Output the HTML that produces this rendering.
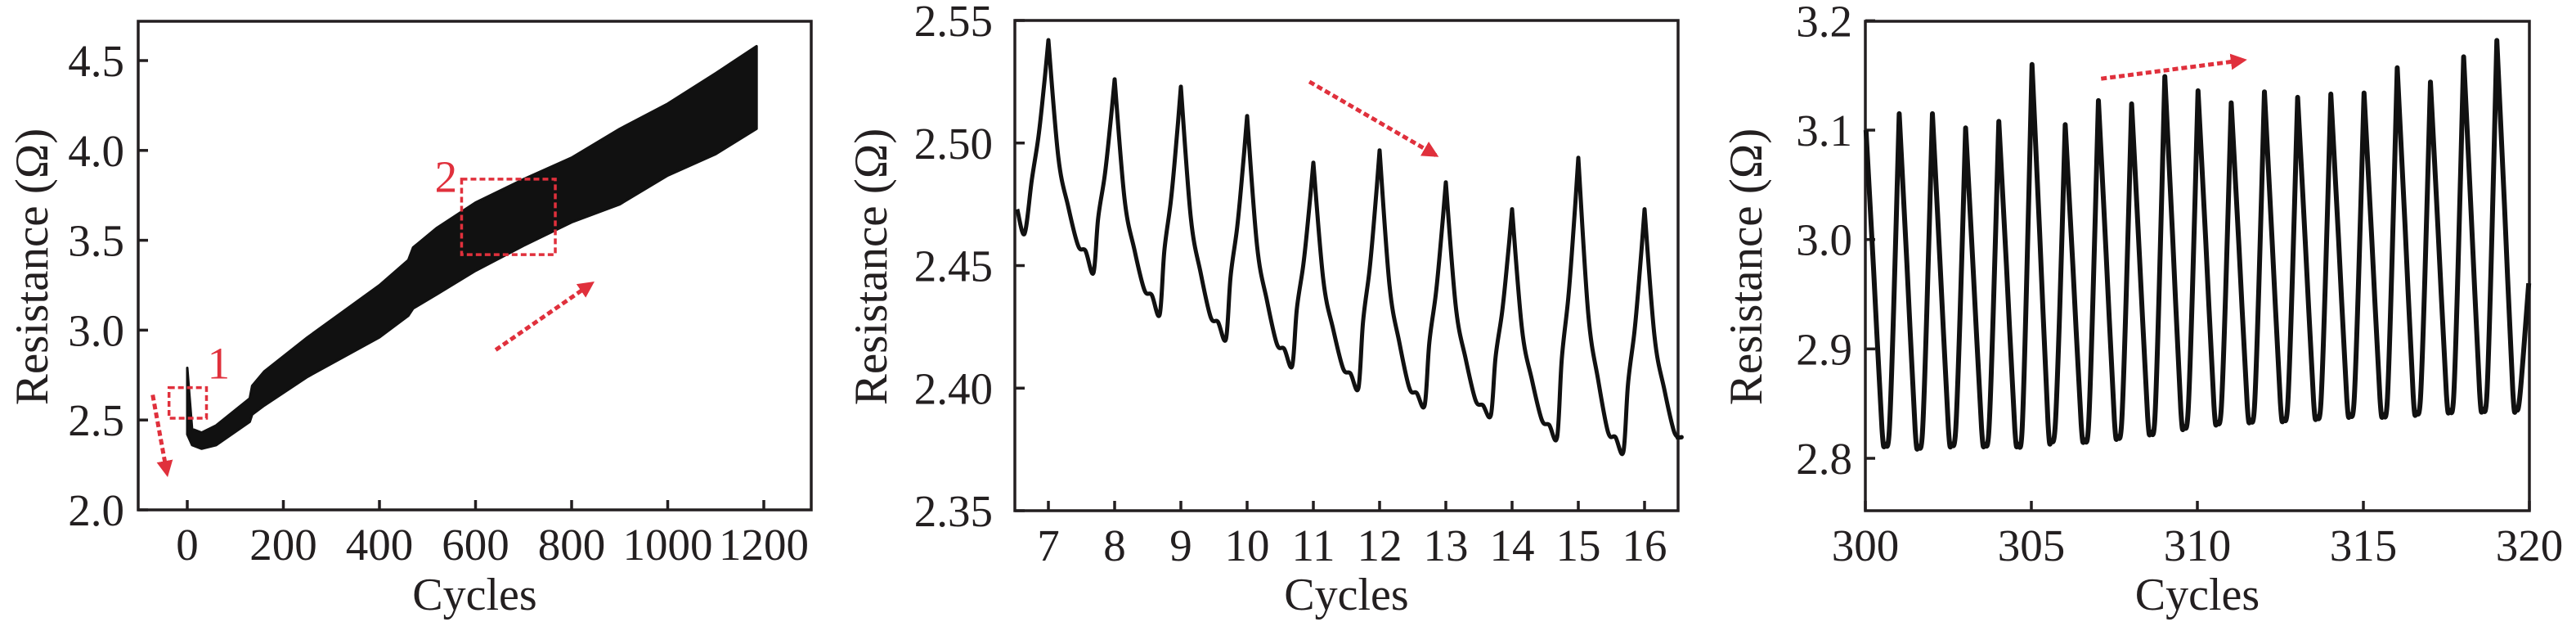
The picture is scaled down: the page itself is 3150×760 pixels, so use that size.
<!DOCTYPE html>
<html><head><meta charset="utf-8"><style>
html,body{margin:0;padding:0;background:#fff;}
svg{display:block;font-family:"Liberation Serif",serif;}
</style></head><body>
<svg id="fig" width="3150" height="760" viewBox="0 0 3150 760" xmlns="http://www.w3.org/2000/svg">
<defs>
<marker id="ah" viewBox="0 0 10 10" refX="8" refY="5" markerWidth="4" markerHeight="4" orient="auto" markerUnits="strokeWidth"><path d="M0,0 L10,5 L0,10 z" fill="#e0303c"/></marker>
</defs>
</svg>
<script>
// ---- Panel 1 data ----
const p1Cycles = [0,10,30,60,130,135,160,250,400,460,470,520,600,700,800,900,1000,1100,1185];
const p1Upper = [2.79,2.45,2.43,2.47,2.62,2.69,2.77,2.96,3.25,3.39,3.46,3.57,3.71,3.84,3.96,4.12,4.26,4.43,4.58];
const p1Lower = [2.42,2.36,2.34,2.36,2.49,2.53,2.58,2.74,2.96,3.08,3.12,3.20,3.33,3.47,3.60,3.70,3.86,3.98,4.12];
const p1XTicks = [0,200,400,600,800,1000,1200];
const p1YTicks = ["2.0","2.5","3.0","3.5","4.0","4.5"];
// ---- Panel 2 data ----
const p2Cycles = [7,8,9,10,11,12,13,14,15,16];
const p2Peaks = [2.542,2.526,2.523,2.511,2.492,2.497,2.484,2.473,2.494,2.473];
const p2Shoulders = [2.458,2.440,2.429,2.418,2.408,2.400,2.395,2.387,2.382,2.382];
const p2Mins = [2.447,2.430,2.420,2.409,2.400,2.393,2.389,2.380,2.374,2.380];
const p2Start = [2.473,2.463];
const p2XTicks = [7,8,9,10,11,12,13,14,15,16];
const p2YTicks = ["2.35","2.40","2.45","2.50","2.55"];
// ---- Panel 3 data ----
const p3Cycles = [300,301,302,303,304,305,306,307,308,309,310,311,312,313,314,315,316,317,318,319];
const p3Peaks = [3.100,3.115,3.115,3.102,3.108,3.160,3.105,3.127,3.124,3.149,3.136,3.125,3.135,3.130,3.133,3.134,3.157,3.144,3.167,3.182];
const p3Mins = [2.813,2.811,2.813,2.813,2.813,2.816,2.817,2.820,2.824,2.829,2.833,2.835,2.836,2.838,2.840,2.840,2.842,2.844,2.845,2.845];
const p3End = 2.96;
const p3XTicks = [300,305,310,315,320];
const p3YTicks = ["2.8","2.9","3.0","3.1","3.2"];

const svg = document.getElementById('fig');
const NS = 'http://www.w3.org/2000/svg';
function mk(tag, attrs, parent){ const e=document.createElementNS(NS,tag); for(const k in attrs) e.setAttribute(k,attrs[k]); (parent||svg).appendChild(e); return e; }
const RED = '#e0303c';
function lin(d0,d1,r0,r1){ return v => r0 + (v-d0)/(d1-d0)*(r1-r0); }

// smooth path through pixel points; sharp corners at indices in `sharp`
function smoothPath(P, sharp){
  let d='M'+P[0][0].toFixed(1)+','+P[0][1].toFixed(1);
  for(let i=0;i<P.length-1;i++){
    const p1=P[i], p2=P[i+1];
    const p0 = (i===0||sharp.has(i)) ? p1 : P[i-1];
    const p3 = (i+2>=P.length||sharp.has(i+1)) ? p2 : P[i+2];
    const c1=[p1[0]+(p2[0]-p0[0])/6, p1[1]+(p2[1]-p0[1])/6];
    const c2=[p2[0]-(p3[0]-p1[0])/6, p2[1]-(p3[1]-p1[1])/6];
    d+=` C${c1[0].toFixed(1)},${c1[1].toFixed(1)} ${c2[0].toFixed(1)},${c2[1].toFixed(1)} ${p2[0].toFixed(1)},${p2[1].toFixed(1)}`;
  }
  return d;
}

function axes(g, P, xs, ys, xt, yt){
  const fr = mk('rect',{x:P.l,y:P.t,width:P.r-P.l,height:P.b-P.t,fill:'none',stroke:'#231f20','stroke-width':3.5},g);
  
  
  xt.forEach(v=>{
    const x=xs(v);
    const t=mk('line',{x1:x,x2:x,y1:P.b,y2:P.b-12,stroke:'#231f20','stroke-width':3.5},g);
    
    
    const l=mk('text',{x:x,y:P.b+61,'font-size':55,'text-anchor':'middle',fill:'#231f20'},g);
    l.textContent = String(v);
    
    
  });
  yt.forEach(s=>{
    const y=ys(parseFloat(s));
    const t=mk('line',{x1:P.l,x2:P.l+12,y1:y,y2:y,stroke:'#231f20','stroke-width':3.5},g);
    
    
    const l=mk('text',{x:P.ly,y:y+19,'font-size':55,'text-anchor':'end',fill:'#231f20'},g);
    l.textContent=s;
    
    
  });
  const xtit=mk('text',{x:(P.l+P.r)/2,y:745,'font-size':56,'text-anchor':'middle',fill:'#231f20'},g);
  xtit.textContent='Cycles';
  
  
  const ytit=mk('text',{x:0,y:0,'font-size':57,'text-anchor':'middle',fill:'#231f20',transform:`translate(${P.yt},326) rotate(-90)`},g);
  ytit.textContent='Resistance (Ω)';
  
  
}
function dashLine(g,x1,y1,x2,y2,name){
  const a=mk('line',{x1,y1,x2,y2,stroke:RED,'stroke-width':5,'stroke-dasharray':'7 4','marker-end':'url(#ah)'},g);
  
  
}

// ---------- Panel 1 ----------
{
  const g=mk('g',{});  
  const P={l:169,r:992,t:26,b:623,ly:152,yt:58};
  const xs=lin(0,1200,229,934), ys=lin(2.0,4.5,623,74);
  axes(g,P,xs,ys,p1XTicks,p1YTicks);
  let d='M'+xs(p1Cycles[0])+','+ys(p1Upper[0]);
  for(let i=1;i<p1Cycles.length;i++) d+=' L'+xs(p1Cycles[i]).toFixed(1)+','+ys(p1Upper[i]).toFixed(1);
  for(let i=p1Cycles.length-1;i>=0;i--) d+=' L'+xs(p1Cycles[i]).toFixed(1)+','+ys(p1Lower[i]).toFixed(1);
  d+='Z';
  const band=mk('path',{d,fill:'#111',stroke:'#111','stroke-width':3,'stroke-linejoin':'round'},g);
  
  
  const b1=mk('rect',{x:xs(-38),y:ys(2.68),width:xs(40)-xs(-38),height:ys(2.51)-ys(2.68),fill:'none',stroke:RED,'stroke-width':3.5,'stroke-dasharray':'7 4'},g);
   
  const b2=mk('rect',{x:xs(571),y:ys(3.84),width:xs(766)-xs(571),height:ys(3.42)-ys(3.84),fill:'none',stroke:RED,'stroke-width':3.5,'stroke-dasharray':'7 4'},g);
   
  const t1=mk('text',{x:xs(42),y:ys(2.73),'font-size':55,fill:RED},g); t1.textContent='1';
   
  const t2=mk('text',{x:xs(515),y:ys(3.77),'font-size':55,fill:RED},g); t2.textContent='2';
   
  dashLine(g,xs(-72),ys(2.64),xs(-42),ys(2.2),'decrease-arrow');
  dashLine(g,xs(642),ys(2.89),xs(842),ys(3.26),'increase-arrow');
}

// ---------- Panel 2 ----------
{
  const g=mk('g',{});  
  const P={l:1241,r:2052,t:25,b:624,ly:1214,yt:1084};
  const xs=lin(7,16,1282,2011), ys=lin(2.35,2.55,624,25);
  axes(g,P,xs,ys,p2XTicks,p2YTicks);
  const pts=[[6.53,p2Start[0]],[6.64,p2Start[1]]];
  const m0=p2Start[1], a0=p2Peaks[0]-m0;
  pts.push([6.75,m0+0.28*a0],[6.85,m0+0.5*a0],[6.93,m0+0.75*a0]);
  const sharp=new Set();
  for(let i=0;i<p2Cycles.length;i++){
    const t=p2Cycles[i], pk=p2Peaks[i], sh=p2Shoulders[i], mn=p2Mins[i];
    sharp.add(pts.length);
    pts.push([t,pk],[t+0.15,sh+0.43*(pk-sh)],[t+0.3,sh+0.19*(pk-sh)],[t+0.45,sh],[t+0.56,sh-0.002]);
    if(i<p2Cycles.length-1){
      const np=p2Peaks[i+1], a=np-mn;
      pts.push([t+0.68,mn],[t+0.75,mn+0.28*a],[t+0.85,mn+0.5*a],[t+0.93,mn+0.75*a]);
    } else {
      pts.push([t+0.47,mn]);
    }
  }
  const d=smoothPath(pts.map(p=>[xs(p[0]),ys(p[1])]),sharp);
  const ln=mk('path',{d,fill:'none',stroke:'#111','stroke-width':5,'stroke-linejoin':'round'},g);
  
  
  dashLine(g,xs(10.94),ys(2.525),xs(12.85),ys(2.495),'decrease-arrow');
}

// ---------- Panel 3 ----------
{
  const g=mk('g',{});  
  const P={l:2281,r:3093,t:26,b:624,ly:2265,yt:2154};
  const xs=lin(300,320,2281,3093), ys=lin(2.8,3.1,560,159);
  axes(g,P,xs,ys,p3XTicks,p3YTicks);
  const pts=[]; const sharp=new Set();
  for(let i=0;i<p3Cycles.length;i++){
    const t=p3Cycles[i], pk=p3Peaks[i], mn=p3Mins[i], a=pk-mn;
    sharp.add(pts.length);
    pts.push([t+0.02,pk],[t+0.25,mn+0.55*a],[t+0.5,mn+0.05*a],[t+0.6,mn],[t+0.72,mn+0.04*a]);
    if(i<p3Cycles.length-1){
      const na=p3Peaks[i+1]-mn;
      pts.push([t+0.85,mn+0.4*na]);
    } else {
      pts.push([t+0.98,p3End]);
    }
  }
  const d=smoothPath(pts.map(p=>[xs(p[0]),ys(p[1])]),sharp);
  const ln=mk('path',{d,fill:'none',stroke:'#111','stroke-width':6,'stroke-linejoin':'round'},g);
  
  
  dashLine(g,xs(307.1),ys(3.147),xs(311.4),ys(3.164),'increase-arrow');
}
</script>
</body></html>
